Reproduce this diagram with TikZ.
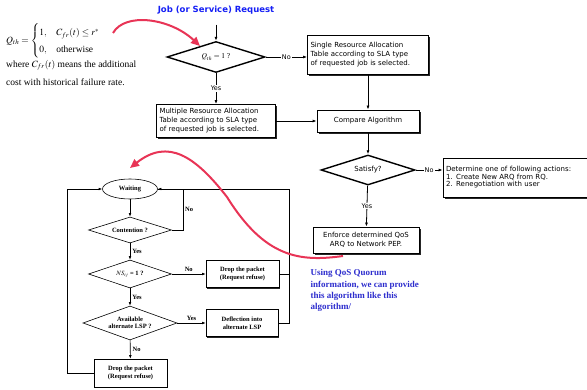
\documentclass[tikz,border=0pt]{standalone}
\usepackage{amsmath}
\usepackage{mathptmx}
\usepackage{fontspec}
\setmainfont{Liberation Serif}
\newfontfamily\flowsans{DejaVu Sans}
\definecolor{req_blue}{RGB}{20, 30, 245}
\definecolor{note_blue}{RGB}{45, 45, 205}
\definecolor{hint_red}{RGB}{232, 52, 86}
\usetikzlibrary{arrows.meta, positioning, shapes.geometric, shadows}

\begin{document}
\begin{tikzpicture}[x=1pt, y=-1pt,
        box/.style={rectangle, draw, fill=white, line width=0.8pt, inner sep=3pt,
                    font=\flowsans\fontsize{7}{9}\selectfont,
                    drop shadow={shadow xshift=1.6pt, shadow yshift=-1.6pt, fill=black, opacity=0.85}},
        test/.style={diamond, draw, fill=white, line width=1.4pt, aspect=3, inner sep=0pt,
                     font=\flowsans\fontsize{7}{9}\selectfont},
        arr/.style={-{Latex[length=4pt, width=3pt]}, line width=0.8pt},
        lbl/.style={font=\flowsans\fontsize{6.5}{7}\selectfont, fill=white, inner sep=1pt},
        sbox/.style={rectangle, draw, fill=white, line width=0.6pt, align=center,
                     font=\bfseries\fontsize{6.5}{8}\selectfont,
                     minimum width=73pt, minimum height=27pt,
                     drop shadow={shadow xshift=1.3pt, shadow yshift=-1.3pt, fill=black, opacity=0.85}},
        stest/.style={diamond, draw, fill=white, line width=0.6pt, aspect=3, inner sep=0pt,
                      align=center, font=\bfseries\fontsize{6.5}{7.5}\selectfont},
        sarr/.style={-{Latex[length=3.5pt, width=2.6pt]}, line width=0.6pt},
        slbl/.style={font=\bfseries\fontsize{6.5}{7}\selectfont, inner sep=2pt},
        formula/.style={font=\fontsize{9.5}{18}\selectfont, inner sep=0pt},
        remark/.style={draw=hint_red, line width=2pt, -{Triangle[length=9pt, width=8pt]}},
    ]
    \useasboundingbox (0,0) rectangle (587,390);

    % admission test
    \node[font=\flowsans\bfseries\fontsize{8.5}{10}\selectfont, text=req_blue] (req) at (216,10) {Job (or Service) Request};
    \node[test, minimum width=98pt, minimum height=31pt, font=\fontsize{7.5}{9}\selectfont] (qtest) at (216,57) {$Q_{th}=1$ ?};
    \node[box, text width=115pt, minimum height=39pt, align=left] (single) at (368,55)
        {Single Resource Allocation\\Table according to SLA type\\of requested job is selected.};
    \node[box, text width=113pt, minimum height=33pt, align=left] (multi) at (216,121)
        {Multiple Resource Allocation\\Table according to SLA type\\of requested job is selected.};
    \node[box, minimum width=102pt, minimum height=22pt] (compare) at (368,121) {Compare Algorithm};
    \node[test, minimum width=94pt, minimum height=30pt] (sat) at (368,170) {Satisfy?};
    \node[box, text width=138pt, minimum height=39pt, align=left, font=\flowsans\fontsize{7}{7.5}\selectfont] (determine) at (515,177.5)
        {Determine one of following actions:\\1. Create New ARQ from RQ.\\2. Renegotiation with user};
    \node[box, minimum width=106pt, minimum height=26pt, align=center] (enforce) at (366,240)
        {Enforce determined QoS\\ARQ to Network PEP.};

    \draw[arr] ([yshift=-7pt]req.south) -- (qtest);
    \draw[arr] (qtest) -- node[lbl]{No} (single.west |- qtest.east);
    \draw[arr] (qtest) -- node[lbl]{Yes} (multi);
    \draw[arr] (single) -- (compare);
    \draw[arr] (multi.east) -- (compare.west |- multi.east);
    \draw[arr] (compare) -- (sat);
    \draw[arr] (sat) -- node[lbl]{No} (determine.west |- sat.east);
    \draw[arr] (sat) -- node[lbl]{Yes} (enforce);

    % quorum definition
    \node[formula, font=\fontsize{9.5}{14}\selectfont, anchor=west] (qdef) at (6,41)
        {$Q_{th}=\begin{cases}1, & C_{fr}(t)\le r^{*}\\ 0, & \text{otherwise}\end{cases}$};
    \node[formula, anchor=north west, align=left] (qwhere) at (6,60)
        {where $C_{fr}(t)$ means the additional\\cost with historical failure rate.};

    \node[font=\bfseries\fontsize{9}{11.3}\selectfont, text=note_blue, align=left, anchor=north west] (quorum) at (307,266)
        {Using QoS Quorum\\information, we can provide\\this algorithm like this\\algorithm/};

    % contention handling
    \node[ellipse, draw, fill=white, line width=0.6pt, minimum width=55pt, minimum height=20pt, inner sep=0pt,
          font=\bfseries\fontsize{6.5}{7}\selectfont] (wait) at (130,189) {Waiting};
    \node[stest, minimum width=83pt, minimum height=26pt] (cont) at (130,230) {Contention ?};
    \node[stest, minimum width=83pt, minimum height=28pt] (nscheck) at (130,274) {$NS_{ij}$ = 1 ?};
    \node[stest, minimum width=94pt, minimum height=34pt] (altlsp) at (130,323) {Available\\alternate LSP ?};
    \node[sbox] (drop) at (242.5,274) {Drop the packet\\(Request refuse)};
    \node[sbox, minimum width=72pt] (deflect) at (242,323) {Deflection into\\alternate LSP};
    \node[sbox, minimum height=28pt] (dropall) at (130.5,373) {Drop the packet\\(Request refuse)};

    \draw[sarr] (wait) -- (cont);
    \draw[line width=0.6pt] (cont.east) -- ++(11,0) |- node[slbl, pos=0.25, right]{No} (wait.east);
    \draw[sarr] (cont) -- node[slbl, right]{Yes} (nscheck);
    \draw[sarr] (nscheck) -- node[slbl, above]{No} (drop);
    \draw[sarr] (nscheck) -- node[slbl, right]{Yes} (altlsp);
    \draw[sarr] (altlsp) -- node[slbl, above]{Yes} (deflect);
    \draw[sarr] (altlsp) -- node[slbl, right]{No} (dropall);
    \draw[sarr] (deflect.east) -- ++(11,0) |- (wait.east);
    \draw[line width=0.6pt] (drop.east) -- ([xshift=11pt]deflect.east |- drop.east);
    \draw[sarr] (dropall.west) -- ++(-26,0) |- (wait.west);

    % hints
    \coordinate (qtail) at (113,33);
    \coordinate (qhead) at (200,46);
    \coordinate (atail) at (343,256);
    \coordinate (ahead) at (130,168);
    \draw[remark] (qtail) .. controls (125,12) and (170,18) .. (qhead);
    \draw[remark] (atail) .. controls (300,262) and (265,258) .. (227,197)
        .. controls (195,156) and (168,138) .. (ahead);
\end{tikzpicture}
\end{document}
